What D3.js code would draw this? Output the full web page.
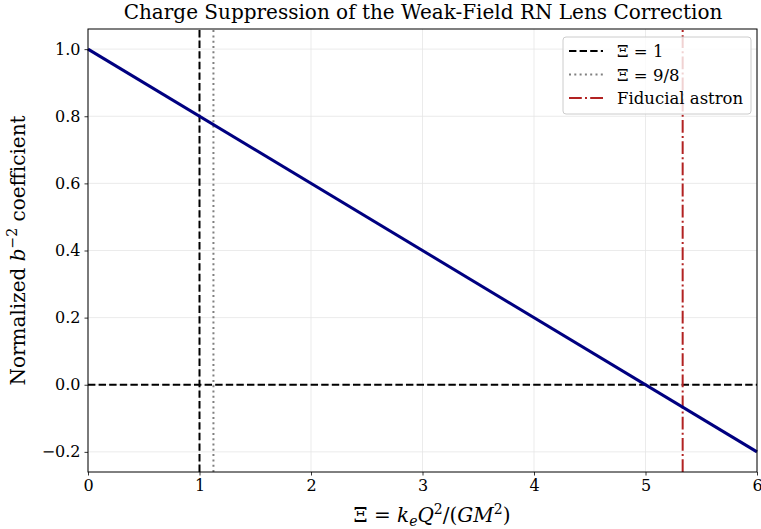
<!DOCTYPE html>
<html>
<head>
<meta charset="UTF-8" />
<script src="https://cdn.jsdelivr.net/npm/d3@7"></script>
<style>
  body { margin: 0; background: #fff; }
  text { font-family: "DejaVu Serif", serif; }
</style>
</head>
<body>
<svg id="chart"></svg>
<script>
// data
const xi = [0, 6];
const coeff = [1.0, -0.2];          // 1 - xi/5
const xTicks = [0, 1, 2, 3, 4, 5, 6];
const yTicks = [-0.2, 0.0, 0.2, 0.4, 0.6, 0.8, 1.0];
const markers = [
  { x: 1, label: "Ξ = 1", color: "#000", dash: "7.4,3.2", width: 2 },
  { x: 9 / 8, label: "Ξ = 9/8", color: "#808080", dash: "2,3.3", width: 2 },
  { x: 16 / 3, label: "Fiducial astron", color: "#b22222", dash: "12.8,3.2,2,3.2", width: 2 }
];

const W = 761, H = 529;
const m = { left: 88, right: 4, top: 29, bottom: 57 };

const svg = d3.select("#chart").attr("width", W).attr("height", H);

const x = d3.scaleLinear().domain([0, 6]).range([m.left, W - m.right]);
const y = d3.scaleLinear().domain([-0.26, 1.06]).range([H - m.bottom, m.top]);

// grid
svg.append("g").selectAll("line").data(xTicks).enter().append("line")
  .attr("x1", d => x(d)).attr("x2", d => x(d))
  .attr("y1", y(-0.26)).attr("y2", y(1.06))
  .attr("stroke", "#e6e6e6").attr("stroke-width", 0.8);
svg.append("g").selectAll("line").data(yTicks).enter().append("line")
  .attr("x1", x(0)).attr("x2", x(6))
  .attr("y1", d => y(d)).attr("y2", d => y(d))
  .attr("stroke", "#e6e6e6").attr("stroke-width", 0.8);

// horizontal zero line
svg.append("line")
  .attr("x1", x(0)).attr("x2", x(6))
  .attr("y1", y(0)).attr("y2", y(0))
  .attr("stroke", "#000").attr("stroke-width", 2).attr("stroke-dasharray", "7.4,3.2");

// vertical markers
markers.forEach(mk => {
  svg.append("line")
    .attr("x1", x(mk.x)).attr("x2", x(mk.x))
    .attr("y1", y(-0.26)).attr("y2", y(1.06))
    .attr("stroke", mk.color).attr("stroke-width", mk.width)
    .attr("stroke-dasharray", mk.dash);
});

// main line
const line = d3.line().x((d, i) => x(xi[i])).y(d => y(d));
svg.append("path").datum(coeff)
  .attr("d", line).attr("fill", "none")
  .attr("stroke", "#000080").attr("stroke-width", 3);

// axes
const xAxis = svg.append("g")
  .attr("transform", `translate(0,${H - m.bottom})`)
  .call(d3.axisBottom(x).tickValues(xTicks).tickFormat(d3.format("d")).tickSize(3.5).tickPadding(4));
xAxis.selectAll("text").style("font-size", "16px").attr("fill", "#000");

const yAxis = svg.append("g")
  .attr("transform", `translate(${m.left},0)`)
  .call(d3.axisLeft(y).tickValues(yTicks).tickFormat(d => d3.format(".1f")(d).replace("-", "\u2212")).tickSize(3.5).tickPadding(4));
yAxis.selectAll("text").style("font-size", "16px").attr("fill", "#000");
[xAxis, yAxis].forEach(a => {
  a.select(".domain").remove();
  a.selectAll(".tick line").attr("stroke", "#000").attr("stroke-width", 0.8);
});

// frame
svg.append("rect")
  .attr("x", x(0)).attr("y", y(1.06))
  .attr("width", x(6) - x(0)).attr("height", y(-0.26) - y(1.06))
  .attr("fill", "none").attr("stroke", "#000").attr("stroke-width", 1);

// legend
const lg = svg.append("g").attr("transform", "translate(563,37)");
lg.append("rect").attr("width", 188).attr("height", 77).attr("rx", 3)
  .attr("fill", "#fff").attr("fill-opacity", 0.8)
  .attr("stroke", "#cccccc").attr("stroke-width", 1);
markers.forEach((mk, i) => {
  const yy = 14 + i * 23.5;
  lg.append("line").attr("x1", 6).attr("x2", 40).attr("y1", yy).attr("y2", yy)
    .attr("stroke", mk.color).attr("stroke-width", mk.width).attr("stroke-dasharray", mk.dash);
  lg.append("text").attr("x", 54).attr("y", yy + 6)
    .style("font-size", "16.5px").text(mk.label);
});

// title
svg.append("text")
  .attr("x", 423).attr("y", 19).attr("text-anchor", "middle")
  .style("font-size", "20px").text("Charge Suppression of the Weak-Field RN Lens Correction");

// x label
const xl = svg.append("text")
  .attr("x", 432).attr("y", 522).attr("text-anchor", "middle").style("font-size", "20px");
xl.append("tspan").text("Ξ = ");
xl.append("tspan").attr("font-style", "italic").text("k");
xl.append("tspan").attr("font-style", "italic").attr("font-size", "14px").attr("dy", 4).text("e");
xl.append("tspan").attr("font-style", "italic").attr("dy", -4).text("Q");
xl.append("tspan").attr("font-size", "14px").attr("dy", -8).text("2");
xl.append("tspan").attr("dy", 8).text("/(");
xl.append("tspan").attr("font-style", "italic").text("GM");
xl.append("tspan").attr("font-size", "14px").attr("dy", -8).text("2");
xl.append("tspan").attr("dy", 8).text(")");

// y label
const yl = svg.append("text")
  .attr("transform", `translate(25,${(y(1.06) + y(-0.26)) / 2}) rotate(-90)`)
  .attr("text-anchor", "middle").style("font-size", "20px");
yl.append("tspan").text("Normalized ");
yl.append("tspan").attr("font-style", "italic").text("b");
yl.append("tspan").attr("font-size", "14px").attr("dy", -8).text("\u22122");
yl.append("tspan").attr("dy", 8).text(" coefficient");
</script>
</body>
</html>
